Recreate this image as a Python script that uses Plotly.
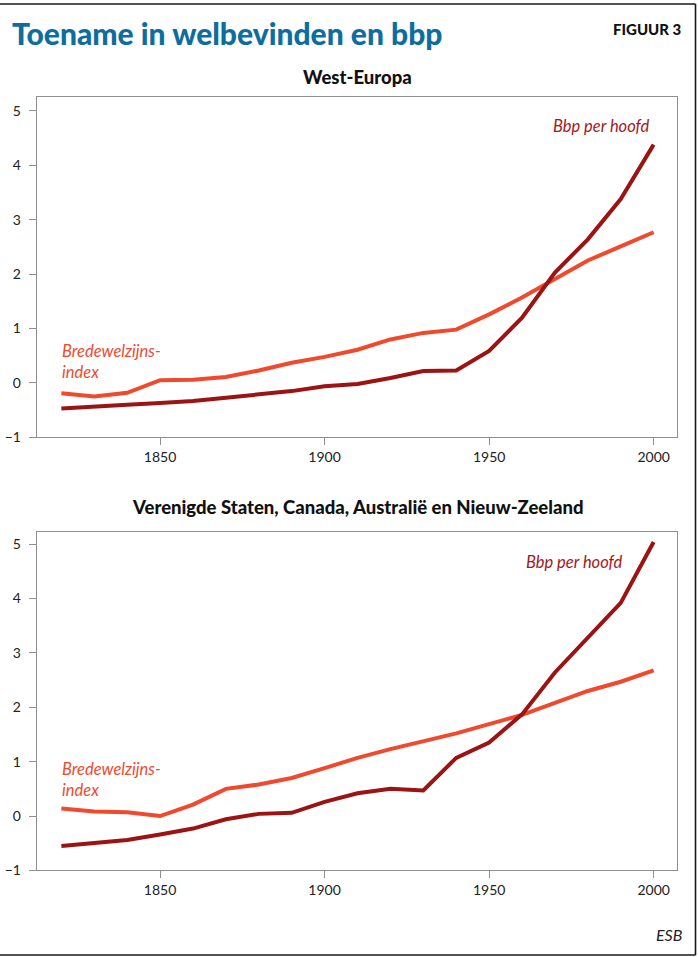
import plotly.graph_objects as go

W, H = 698, 957          # reference picture size
FIG_H = 968              # rendered page height (compensates vertical scaling of capture)

years = [1820, 1830, 1840, 1850, 1860, 1870, 1880, 1890, 1900, 1910,
         1920, 1930, 1940, 1950, 1960, 1970, 1980, 1990, 2000]

# West-Europa
we_welzijn = [-0.19, -0.25, -0.18, 0.05, 0.06, 0.11, 0.23, 0.37, 0.48, 0.61,
              0.80, 0.92, 0.98, 1.26, 1.57, 1.90, 2.25, 2.51, 2.77]
we_bbp = [-0.47, -0.43, -0.40, -0.37, -0.33, -0.27, -0.21, -0.15, -0.06, -0.02,
          0.09, 0.22, 0.23, 0.59, 1.20, 2.03, 2.64, 3.38, 4.38]

# Verenigde Staten, Canada, Australië en Nieuw-Zeeland
us_welzijn = [0.14, 0.085, 0.07, 0.0, 0.21, 0.50, 0.58, 0.70, 0.88, 1.07,
              1.23, 1.38, 1.52, 1.69, 1.86, 2.08, 2.30, 2.47, 2.68]
us_bbp = [-0.55, -0.49, -0.44, -0.34, -0.23, -0.06, 0.04, 0.06, 0.26, 0.42,
          0.50, 0.47, 1.07, 1.35, 1.87, 2.64, 3.27, 3.92, 5.04]

x_ticks = [1850, 1900, 1950, 2000]
y_ticks = [-1, 0, 1, 2, 3, 4, 5]
y_ticktext = ["−1", "0", "1", "2", "3", "4", "5"]

title = "Toename in welbevinden en bbp"
fig_label = "FIGUUR 3"
panel_titles = ["West-Europa", "Verenigde Staten, Canada, Australië en Nieuw-Zeeland"]
label_welzijn = "Bredewelzijns-<br>index"
label_bbp = "Bbp per hoofd"
source = "ESB"

ORANGE = "#ef4a2e"
DARK = "#9b1313"
BBP_TXT = "#a3191d"
BLUE = "#0d6e9e"
GRID = "#8f8f8f"
FONT = "Lato"


def px(x):
    return x / W


def py(y):
    return 1 - y / H


fig = go.Figure()

panels = [
    (we_welzijn, we_bbp, "x", "y"),
    (us_welzijn, us_bbp, "x2", "y2"),
]
for wz, bbp, xa, ya in panels:
    fig.add_trace(go.Scatter(x=years, y=wz, mode="lines", xaxis=xa, yaxis=ya,
                             line=dict(color=ORANGE, width=4), hoverinfo="skip",
                             showlegend=False))
    fig.add_trace(go.Scatter(x=years, y=bbp, mode="lines", xaxis=xa, yaxis=ya,
                             line=dict(color=DARK, width=4), hoverinfo="skip",
                             showlegend=False))

axis_common = dict(showgrid=False, zeroline=False, showline=True, mirror=True,
                   linecolor=GRID, linewidth=1, ticks="outside", ticklen=7,
                   tickcolor=GRID, tickwidth=1,
                   tickfont=dict(family=FONT, size=14, color="#222222"))

fig.update_layout(
    width=W, height=FIG_H,
    margin=dict(l=0, r=0, t=0, b=0),
    paper_bgcolor="white", plot_bgcolor="white",
    xaxis=dict(domain=[px(36.7), px(677)], range=[1812.5, 2007.1],
               tickvals=x_ticks, anchor="y", **axis_common),
    yaxis=dict(domain=[py(436), py(97)], range=[-1, 5.25],
               tickvals=y_ticks, ticktext=y_ticktext, anchor="x",
               ticklabelstandoff=5, **axis_common),
    xaxis2=dict(domain=[px(36.7), px(677)], range=[1812.5, 2007.1],
                tickvals=x_ticks, anchor="y2", **axis_common),
    yaxis2=dict(domain=[py(867.7), py(530)], range=[-1, 5.23],
                tickvals=y_ticks, ticktext=y_ticktext, anchor="x2",
                ticklabelstandoff=5, **axis_common),
)

ann = []
ann.append(dict(text=title, x=px(10), y=py(33), xref="paper", yref="paper",
                xanchor="left", yanchor="middle", showarrow=False,
                font=dict(family=FONT, size=30, color=BLUE, weight=900)))
ann.append(dict(text=fig_label, x=px(684), y=py(29), xref="paper", yref="paper",
                xanchor="right", yanchor="middle", showarrow=False,
                font=dict(family=FONT, size=15, color="#111111", weight=900)))
ann.append(dict(text=panel_titles[0], x=px(357), y=py(77), xref="paper", yref="paper",
                xanchor="center", yanchor="middle", showarrow=False,
                font=dict(family=FONT, size=18.5, color="#111111", weight=900)))
ann.append(dict(text=panel_titles[1], x=px(357), y=py(505), xref="paper", yref="paper",
                xanchor="center", yanchor="middle", showarrow=False,
                font=dict(family=FONT, size=18.5, color="#111111", weight=900)))
# series labels
ann.append(dict(text=label_welzijn, x=1819.5, y=0.39, xref="x", yref="y",
                xanchor="left", yanchor="middle", align="left", showarrow=False,
                font=dict(family=FONT, size=16.5, color=ORANGE, style="italic")))
ann.append(dict(text=label_welzijn, x=1819.5, y=0.68, xref="x2", yref="y2",
                xanchor="left", yanchor="middle", align="left", showarrow=False,
                font=dict(family=FONT, size=16.5, color=ORANGE, style="italic")))
ann.append(dict(text=label_bbp, x=1999.5, y=4.73, xref="x", yref="y",
                xanchor="right", yanchor="middle", showarrow=False,
                font=dict(family=FONT, size=16.5, color=BBP_TXT, style="italic")))
ann.append(dict(text=label_bbp, x=1991.3, y=4.68, xref="x2", yref="y2",
                xanchor="right", yanchor="middle", showarrow=False,
                font=dict(family=FONT, size=16.5, color=BBP_TXT, style="italic")))
ann.append(dict(text=source, x=px(684), y=py(932), xref="paper", yref="paper",
                xanchor="right", yanchor="middle", showarrow=False,
                font=dict(family=FONT, size=16, color="#222222", style="italic")))
fig.update_layout(annotations=ann)

# page frame (top, right, bottom)
frame = dict(color="#1a1a1a", width=1.6)
fig.add_shape(type="line", xref="paper", yref="paper", x0=0, x1=px(695.5),
              y0=py(4), y1=py(4), line=frame)
fig.add_shape(type="line", xref="paper", yref="paper", x0=px(695.5), x1=px(695.5),
              y0=py(4), y1=py(952), line=frame)
fig.add_shape(type="line", xref="paper", yref="paper", x0=0, x1=px(695.5),
              y0=py(952), y1=py(952), line=frame)

page_css = (
    "var s=document.createElement('style');"
    "s.textContent='html,body{margin:0!important;padding:0!important;"
    "overflow:hidden!important;}';"
    "document.head.appendChild(s);"
)

fig.write_html(
    "out.html",
    config={"displayModeBar": False},
    post_script=page_css,
)
